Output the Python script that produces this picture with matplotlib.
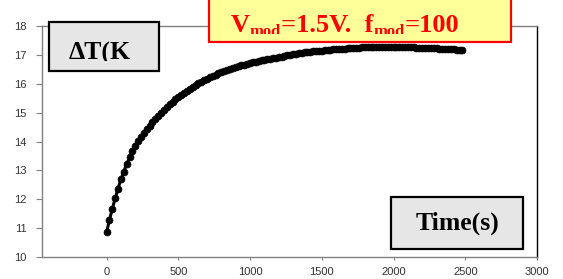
import matplotlib
matplotlib.use("Agg")
import matplotlib.pyplot as plt
from matplotlib.patches import Rectangle
from matplotlib.transforms import Bbox

# ---- data ----
time_s = list(range(0, 2481, 20))
delta_T = [
    10.85, 11.28, 11.67, 12.03, 12.37, 12.69, 12.96, 13.21, 13.45, 13.66,
    13.86, 14.01, 14.16, 14.29, 14.43, 14.55, 14.67, 14.79, 14.90, 15.00,
    15.10, 15.20, 15.29, 15.38, 15.46, 15.54, 15.62, 15.69, 15.76, 15.83,
    15.90, 15.96, 16.01, 16.07, 16.12, 16.17, 16.22, 16.27, 16.31, 16.36,
    16.40, 16.44, 16.47, 16.51, 16.54, 16.57, 16.61, 16.64, 16.66, 16.69,
    16.72, 16.74, 16.76, 16.79, 16.81, 16.83, 16.85, 16.87, 16.88, 16.90,
    16.92, 16.94, 16.96, 16.98, 17.00, 17.02, 17.04, 17.06, 17.08, 17.09,
    17.10, 17.11, 17.12, 17.13, 17.14, 17.15, 17.16, 17.17, 17.18, 17.19,
    17.20, 17.21, 17.22, 17.22, 17.23, 17.24, 17.24, 17.25, 17.25, 17.26,
    17.26, 17.27, 17.27, 17.27, 17.28, 17.28, 17.28, 17.28, 17.28, 17.28,
    17.27, 17.27, 17.27, 17.27, 17.27, 17.26, 17.26, 17.26, 17.25, 17.25,
    17.25, 17.24, 17.24, 17.23, 17.23, 17.23, 17.22, 17.22, 17.21, 17.21,
    17.20, 17.19, 17.18, 17.17, 17.16,
]
x_ticks = [0, 500, 1000, 1500, 2000, 2500, 3000]
y_ticks = [10, 11, 12, 13, 14, 15, 16, 17, 18]
y_label = "ΔT(K"
x_label = "Time(s)"
# title pieces: (text, is_subscript)
title_parts = [("V", False), ("mod", True), ("=1.5V.  f", False),
               ("mod", True), ("=100", False)]

W, H = 563, 279
fig = plt.figure(figsize=(W / 100, H / 100), dpi=100)

def fx(px):
    return px / W

def fy(py):
    return 1 - py / H

L, R, T, B = 42, 537, 26, 257
ax = fig.add_axes([fx(L), fy(B), fx(R) - fx(L), fy(T) - fy(B)])
ax.plot(time_s, delta_T, color='black', lw=2.2, marker='o', ms=5,
        markeredgewidth=0.5, markerfacecolor='black', markeredgecolor='black')
ax.set_xlim(-450, 3000)
ax.set_ylim(10, 18)
ax.set_xticks(x_ticks)
ax.set_yticks(y_ticks)
for s in ['left', 'bottom', 'top']:
    ax.spines[s].set_color('#808080')
    ax.spines[s].set_linewidth(1.0)
ax.spines['right'].set_color('black')
ax.spines['right'].set_linewidth(1.0)
ax.tick_params(axis='y', length=4, width=0.8, color='#808080', pad=7,
               labelsize=8, labelcolor='#333333')
ax.tick_params(axis='x', length=2.5, width=0.8, color='#808080', pad=5,
               labelsize=8, labelcolor='#333333')
for lab in ax.get_xticklabels() + ax.get_yticklabels():
    lab.set_fontfamily('Liberation Sans')

def box(x0, y0, x1, y1, fc, ec):
    r = Rectangle((fx(x0), fy(y1)), fx(x1) - fx(x0), fy(y0) - fy(y1),
                  transform=fig.transFigure, facecolor=fc, edgecolor=ec,
                  linewidth=1.6, zorder=5)
    fig.add_artist(r)

def clip_px(x0, y0, x1, y1):
    return Bbox.from_extents(x0, H - y1, x1, H - y0)

# Delta T box
box(49, 22, 159, 71, '#e6e6e6', 'black')
t1 = fig.text(fx(69), fy(60), y_label, fontsize=18.5, fontweight='bold',
              family='Liberation Serif', color='black', ha='left',
              va='baseline', zorder=6)
t1.set_clip_box(clip_px(50, 23, 158, 61))
t1.set_clip_on(True)

# Yellow title box
box(209, -5, 511, 42, '#ffff99', '#ff0000')
renderer = fig.canvas.get_renderer()
xcur = 231
for txt, sub in title_parts:
    size = 12 if sub else 19
    base = 36 if sub else 32
    t = fig.text(fx(xcur), fy(base), txt, fontsize=size, fontweight='bold',
                 family='Liberation Serif', color='#ff0000', ha='left',
                 va='baseline', zorder=6)
    t.set_clip_box(clip_px(210, 0, 510, 34))
    t.set_clip_on(True)
    ext = t.get_window_extent(renderer)
    xcur = ext.x1

# Time box
box(391, 197, 523, 249, '#e6e6e6', 'black')
fig.text(fx(457), fy(230), x_label, fontsize=18.5, fontweight='bold',
         family='Liberation Serif', color='black', ha='center',
         va='baseline', zorder=6)

fig.savefig('out.png', dpi=100)
